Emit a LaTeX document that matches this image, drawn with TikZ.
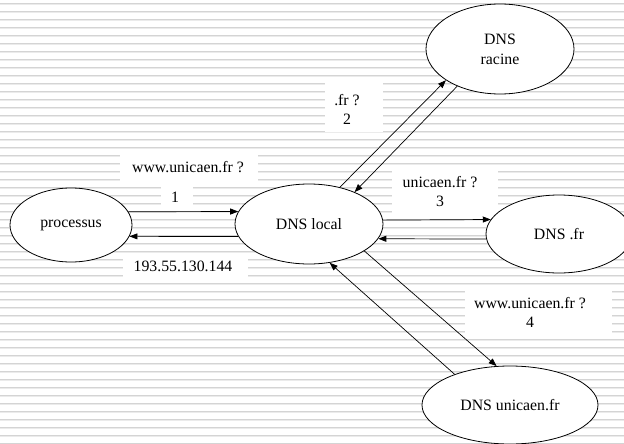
\documentclass[tikz,border=0pt]{standalone}
\usepackage{fontspec}
\setmainfont{Liberation Serif}
\usetikzlibrary{arrows.meta,shapes.geometric}
\definecolor{bgA}{gray}{0.83}
\definecolor{bgB}{gray}{0.92}
\begin{document}
\begin{tikzpicture}[x=1pt,y=-1pt,
  srv/.style={ellipse,draw,fill=white,line width=0.8pt,inner sep=0pt,align=center,font=\fontsize{15.8}{20}\selectfont},
  lblbox/.style={fill=white,inner sep=0pt,draw=none},
  lbltxt/.style={inner sep=0pt,align=center,font=\fontsize{15.8}{19}\selectfont},
  msg/.style={-{Triangle[length=8pt,width=6pt]},line width=0.7pt}]
\useasboundingbox (0,0) rectangle (624,444);
% lined background
\foreach \k in {0,...,55} {
  \fill[bgA] (0,{2.6+8*\k}) rectangle (624,{3.6+8*\k});
  \fill[bgB] (0,{3.6+8*\k}) rectangle (624,{4.6+8*\k});
}
% label boxes
\node[lblbox,minimum width=138pt,minimum height=34pt] (b1a) at (189,170) {};
\node[lblbox,minimum width=32pt,minimum height=18pt] (b1b) at (177,196) {};
\node[lblbox,minimum width=125pt,minimum height=23pt] (bip) at (185.5,266.5) {};
\node[lblbox,minimum width=58pt,minimum height=49pt] (b2) at (354,107.5) {};
\node[lblbox,minimum width=106pt,minimum height=45pt] (b3) at (445,190.5) {};
\node[lblbox,minimum width=147pt,minimum height=43pt] (b4) at (538.5,311.5) {};
% label texts
\node[lbltxt] (t1a) at (188,167) {www.unicaen.fr ?};
\node[lbltxt] (t1b) at (175,197) {1};
\node[lbltxt] (tip) at (183,266) {193.55.130.144};
\node[lbltxt] (t2) at (347,109) {.fr ?\\2};
\node[lbltxt] (t3) at (440,192) {unicaen.fr ?\\3};
\node[lbltxt] (t4) at (530,312.5) {www.unicaen.fr ?\\4};
% servers
\node[srv,minimum width=122pt,minimum height=74pt] (proc) at (71,225) {processus};
\node[srv,minimum width=148pt,minimum height=80pt] (local) at (309,224) {DNS local};
\node[srv,minimum width=148pt,minimum height=90pt] (racine) at (500,49) {DNS\\racine};
\node[srv,minimum width=146pt,minimum height=78pt] (dnsfr) at (559,234) {DNS .fr};
\node[srv,minimum width=176pt,minimum height=78pt] (unic) at (510,405) {DNS unicaen.fr};
% messages
\draw[msg] (proc.13) -- (local.170);
\draw[msg] (local.190) -- (proc.349);
\draw[msg] (local.50) -- (racine.210);
\draw[msg] (racine.221) -- (local.35);
\draw[msg] (local.3) -- (dnsfr.168);
\draw[msg] (dnsfr.184) -- (local.348);
\draw[msg] (local.334) -- (unic.109);
\draw[msg] (unic.151) -- (local.298);
\end{tikzpicture}
\end{document}
